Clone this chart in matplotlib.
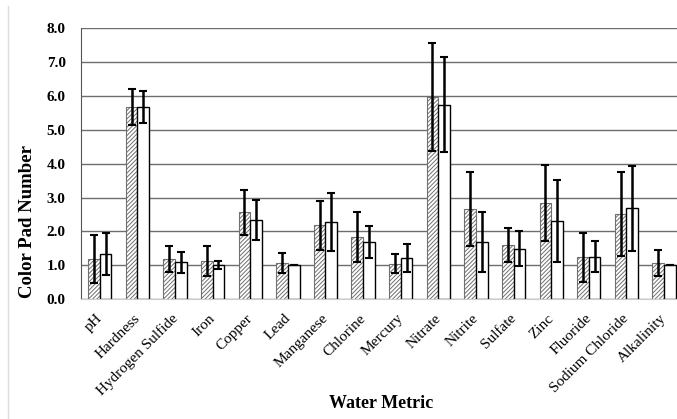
import matplotlib
matplotlib.use("Agg")
import matplotlib.pyplot as plt
import matplotlib.transforms as mtransforms
import numpy as np

# ================> Part Data
metrics = ["pH", "Hardness", "Hydrogen Sulfide", "Iron", "Copper", "Lead",
           "Manganese", "Chlorine", "Mercury", "Nitrate", "Nitrite", "Sulfate",
           "Zinc", "Fluoride", "Sodium Chloride", "Alkalinity"]
hatched_mean = [1.18, 5.68, 1.18, 1.12, 2.57, 1.06, 2.18, 1.84,
                1.05, 5.98, 2.66, 1.60, 2.85, 1.24, 2.51, 1.06]
hatched_err = [0.71, 0.53, 0.39, 0.45, 0.67, 0.29, 0.73, 0.73,
               0.29, 1.60, 1.10, 0.50, 1.13, 0.73, 1.24, 0.39]
white_mean = [1.33, 5.69, 1.09, 1.01, 2.34, 1.00, 2.28, 1.69,
              1.22, 5.75, 1.69, 1.49, 2.31, 1.26, 2.68, 1.00]
white_err = [0.62, 0.47, 0.31, 0.12, 0.59, 0.0, 0.85, 0.47,
             0.42, 1.40, 0.89, 0.51, 1.20, 0.45, 1.26, 0.0]
yticks = [0.0, 1.0, 2.0, 3.0, 4.0, 5.0, 6.0, 7.0, 8.0]

plt.rcParams["font.family"] = ["Liberation Serif", "DejaVu Serif"]
plt.rcParams["hatch.color"] = "#8c8c8c"
plt.rcParams["hatch.linewidth"] = 0.7

fig = plt.figure(figsize=(6.77, 4.19), dpi=100)
ax = fig.add_axes([0.1196, 0.286, 0.889, 0.646])

x = np.arange(len(metrics))
w = 0.31
ax.bar(x - w / 2, hatched_mean, w, color="white", edgecolor="#707070",
       hatch="////////", linewidth=0.8, zorder=2)
ax.bar(x + w / 2, white_mean, w, color="white", edgecolor="black",
       linewidth=1.0, zorder=2)
ax.errorbar(x - w / 2, hatched_mean, yerr=hatched_err, fmt="none",
            ecolor="black", elinewidth=1.8, capsize=3, capthick=1.5, zorder=3)
ax.errorbar(x + w / 2, white_mean, yerr=white_err, fmt="none",
            ecolor="black", elinewidth=1.8, capsize=3, capthick=1.5, zorder=3)

ax.set_xlim(-0.5, len(metrics) - 0.5)
ax.set_ylim(0, 8)
ax.set_yticks(yticks)
ax.set_yticklabels([f"{v:.1f}" for v in yticks], fontweight="bold", fontsize=11)
ax.yaxis.grid(True, color="#6e6e6e", linewidth=1.0, zorder=0)
ax.set_axisbelow(True)
ax.tick_params(axis="y", length=0, pad=11)
ax.tick_params(axis="x", length=0, pad=9)
ax.set_xticks(x)
ax.set_xticklabels(metrics, rotation=45, ha="right", rotation_mode="anchor",
                   fontsize=11)
shift = mtransforms.ScaledTranslation(-3 / 72, 0, fig.dpi_scale_trans)
for lab in ax.get_xticklabels():
    lab.set_transform(lab.get_transform() + shift)

for s in ["top", "right"]:
    ax.spines[s].set_visible(False)
ax.spines["left"].set_color("#555555")
ax.spines["bottom"].set_color("#cccccc")

fig.text(28 / 677, 1 - 222 / 419, "Color Pad Number", rotation=90,
         ha="center", va="center", fontsize=13.5, fontweight="bold")
fig.text(381 / 677, 1 - 403 / 419, "Water Metric", ha="center", va="center",
         fontsize=13, fontweight="bold")

fig.add_artist(plt.Line2D([0.012, 0.012], [0.0, 0.985], color="#dddddd",
                          linewidth=1.0, transform=fig.transFigure))

fig.savefig("out.png", dpi=100)
